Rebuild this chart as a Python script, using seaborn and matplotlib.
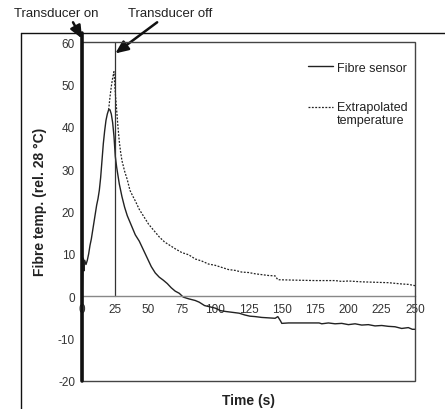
import numpy as np
import pandas as pd
import matplotlib
matplotlib.use('Agg')
import matplotlib.pyplot as plt
from matplotlib.lines import Line2D
from matplotlib.patches import Rectangle
import seaborn as sns

# Fibre sensor trace (time s, temp rel. 28 C)
fibre_t = [0, 0.5, 1, 1.5, 2, 3, 4, 5, 6, 7, 8, 9, 10, 11, 12, 13, 14, 15, 16, 17,
           18, 19, 20, 21, 22, 23, 24, 25, 26, 27, 28, 29, 30, 32, 34, 36, 38, 40,
           43, 46, 49, 52, 55, 58, 61, 64, 67, 70, 73, 76, 80, 85, 88, 92, 96, 100,
           104, 108, 113, 118, 122, 126, 130, 135, 140, 145, 147, 149, 150, 155,
           160, 170, 178, 180, 185, 190, 195, 200, 205, 210, 215, 220, 225, 230,
           235, 240, 245, 248, 250]
fibre_v = [0, 5, 9, 6, 8.5, 7.5, 8.5, 10, 12, 13.5, 15.5, 17.5, 19.5, 21.5, 23, 25,
           28, 32, 36, 39, 41.5, 43, 44, 44, 43, 41, 37.8, 33, 30.5, 28.5, 26.5, 25,
           23.5, 21, 19, 17.5, 16, 14.5, 13, 11, 9, 7, 5.5, 4.5, 3.8, 3, 2, 1.2, 0.7,
           -0.2, -0.6, -1, -1.4, -2.2, -2.5, -2.8, -3.4, -3.6, -3.8, -4.0, -4.4,
           -4.7, -4.8, -5.0, -5.1, -5.2, -4.8, -5.8, -6.4, -6.3, -6.3, -6.3, -6.3,
           -6.5, -6.3, -6.5, -6.4, -6.7, -6.5, -6.8, -6.7, -7.0, -6.9, -7.1, -7.2,
           -7.6, -7.4, -7.8, -7.8]

# Extrapolated temperature
extrap_t = [20, 21, 22, 23, 24, 25, 26, 27, 28, 29, 30, 32, 34, 36, 38, 40, 43, 46,
            50, 54, 58, 62, 66, 70, 75, 80, 85, 90, 95, 100, 105, 110, 115, 120, 125,
            130, 135, 140, 145, 147, 160, 175, 190, 195, 200, 210, 220, 230, 240,
            245, 250]
extrap_v = [44, 47, 49.5, 51.5, 53, 48, 44, 40, 36.5, 34, 32, 29.5, 27.5, 25, 23.7,
            22.5, 20.5, 19, 17, 15.5, 14, 12.8, 12, 11.2, 10.3, 9.8, 8.8, 8.3, 7.6,
            7.3, 6.8, 6.3, 6.1, 5.7, 5.6, 5.3, 5.1, 4.9, 4.8, 3.9, 3.8, 3.7, 3.7,
            3.5, 3.6, 3.4, 3.3, 3.2, 2.9, 2.8, 2.5]

x_ticks = [0, 25, 50, 75, 100, 125, 150, 175, 200, 225, 250]
y_ticks = [-20, -10, 0, 10, 20, 30, 40, 50, 60]
t_on = 0
t_off = 25

df_fibre = pd.DataFrame({'t': fibre_t, 'v': fibre_v})
df_extrap = pd.DataFrame({'t': extrap_t, 'v': extrap_v})

sns.set_style("white")
plt.rcParams['font.family'] = ['Liberation Sans', 'DejaVu Sans']
plt.rcParams['axes.unicode_minus'] = False

W, H = 445, 410
fig = plt.figure(figsize=(W / 100, H / 100), dpi=100)
ax = fig.add_axes([82 / W, 1 - 382 / H, 333 / W, 339 / H])

sns.lineplot(x='t', y='v', data=df_fibre, color='#222222', linewidth=1.0,
             label='Fibre sensor', ax=ax)
sns.lineplot(x='t', y='v', data=df_extrap, color='#222222', linewidth=0.9,
             dashes=False, label='Extrapolated\ntemperature', ax=ax)
ax.lines[1].set_dashes((1.5, 1.2))

ax.set_xlim(0, 250)
ax.set_ylim(-20, 60)
ax.set_xticks(x_ticks)
ax.set_yticks(y_ticks)
ax.tick_params(axis='both', labelsize=8.5, colors='#333333', length=3, width=0.8,
               direction='out', pad=2)

# axis layout: x axis crosses at 0, box around plot area
for side in ['top', 'right', 'left']:
    ax.spines[side].set_visible(False)
ax.spines['bottom'].set_position(('data', 0))
ax.spines['bottom'].set_color('#888888')
ax.spines['bottom'].set_linewidth(1.0)
ax.add_patch(Rectangle((0, 0), 1, 1, transform=ax.transAxes, fill=False,
                       edgecolor='#444444', linewidth=1.0, clip_on=False, zorder=5))

# transducer markers
ax.axvline(t_on, ymin=0, ymax=1.027, color='#111111', linewidth=2.6, clip_on=False, zorder=6)
ax.plot([t_off, t_off], [0, 60], color='#333333', linewidth=0.9)

ax.set_xlabel('Time (s)', fontsize=10, fontweight='bold', color='#222222')
ax.set_ylabel('Fibre temp. (rel. 28 \u00b0C)', fontsize=10, fontweight='bold', color='#222222')
ax.xaxis.set_label_coords(0.5, -0.035)
ax.yaxis.set_label_coords(-0.105, 0.53)

leg = ax.legend(loc='upper left', bbox_to_anchor=(0.645, 0.975), frameon=False,
                fontsize=9, handlelength=2.0, handletextpad=0.3, labelspacing=2.15)
for t in leg.get_texts():
    t.set_color('#222222')
# put the dotted sample level with the first line of its two-line label
h2 = leg.legend_handles[1]
h2.set_ydata(np.asarray(h2.get_ydata()) + 4.8)

arrow = dict(arrowstyle='-|>,head_length=0.8,head_width=0.35', color='#111111',
             linewidth=1.8, shrinkA=0, shrinkB=0)
ax.annotate('Transducer on', xy=(t_on, 60.8), xycoords='data',
            xytext=(56 / W, 1 - 14 / H), textcoords='figure fraction',
            ha='center', va='center', fontsize=9.5, color='#222222',
            annotation_clip=False,
            arrowprops=dict(arrow, relpos=(0.68, 0.0)))
ax.annotate('Transducer off', xy=(t_off, 57.3), xycoords='data',
            xytext=(170 / W, 1 - 14 / H), textcoords='figure fraction',
            ha='center', va='center', fontsize=9.5, color='#222222',
            annotation_clip=False,
            arrowprops=dict(arrow, relpos=(0.4, 0.0)))

# outer chart frame
fig.add_artist(Line2D([21 / W, 21 / W], [0, 1 - 34 / H], color='#111111', linewidth=1.0))
fig.add_artist(Line2D([21 / W, 1], [1 - 34 / H, 1 - 34 / H], color='#111111', linewidth=1.0))

fig.savefig('out.png', dpi=100)
